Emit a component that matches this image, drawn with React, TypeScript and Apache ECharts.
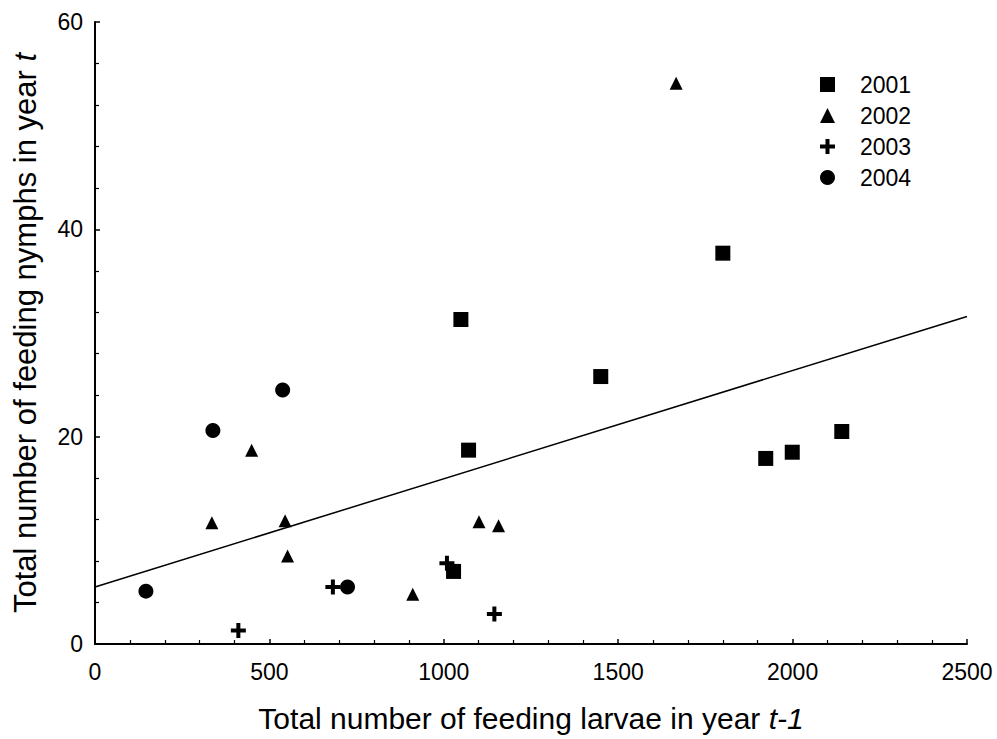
import React, { useEffect, useRef } from "react";
import * as echarts from "echarts";

const years = ["2001", "2002", "2003", "2004"];

const data2001: [number, number][] = [
  [1049, 31.3], [1800, 37.7], [1450, 25.8], [1071, 18.7], [1028, 7.0],
  [1923, 17.9], [1999, 18.5], [2141, 20.5],
];
const data2002: [number, number][] = [
  [1666, 54.1], [449, 18.7], [335, 11.7], [545, 11.9], [552, 8.5],
  [911, 4.8], [1101, 11.8], [1157, 11.4],
];
const data2003: [number, number][] = [
  [411, 1.3], [682, 5.5], [1009, 7.8], [1145, 2.9],
];
const data2004: [number, number][] = [
  [538, 24.5], [338, 20.6], [146, 5.1], [724, 5.5],
];
const regression: [number, number][] = [[0, 5.5], [2500, 31.6]];

const xTicks = [0, 500, 1000, 1500, 2000, 2500];
const yTicks = [0, 20, 40, 60];

const PLUS = "path://M5.5,0 H9.5 V5.5 H15 V9.5 H9.5 V15 H5.5 V9.5 H0 V5.5 H5.5 Z";

export default function App() {
  const ref = useRef<HTMLDivElement>(null);
  useEffect(() => {
    if (!ref.current) return;
    const chart = echarts.init(ref.current, null, { renderer: "svg" });
    const font = "'Liberation Sans', Arial, sans-serif";
    const axisCommon = {
      axisLine: { show: true, lineStyle: { color: "#000", width: 2 } },
      axisTick: { show: true, inside: true, length: 5, lineStyle: { color: "#000", width: 1.5 } },
      minorTick: { show: true, splitNumber: 5, length: 4, lineStyle: { color: "#000", width: 1.2 } },
      splitLine: { show: false },
      axisLabel: { color: "#000", fontSize: 23, fontFamily: font, formatter: (v: number) => String(v) },
    };
    const richX = {
      a: { fontSize: 30, color: "#000", fontFamily: font },
      b: { fontSize: 30, color: "#000", fontFamily: font, fontStyle: "italic" },
    };
    const richY = {
      a: { fontSize: 31, color: "#000", fontFamily: font },
      b: { fontSize: 31, color: "#000", fontFamily: font, fontStyle: "italic" },
    };
    const item = { color: "#000", opacity: 1 };
    chart.setOption({
      animation: false,
      backgroundColor: "#fff",
      textStyle: { fontFamily: font },
      grid: { left: 95, right: 30, top: 22, bottom: 95, containLabel: false, outerBoundsMode: "none" },
      legend: {
        data: years,
        orient: "vertical",
        left: 820,
        top: 73,
        padding: 0,
        itemWidth: 15,
        itemHeight: 15,
        itemGap: 8,
        textStyle: { color: "#000", fontSize: 23, fontFamily: font, padding: [0, 0, 0, 20] },
      },
      xAxis: {
        type: "value",
        min: xTicks[0],
        max: xTicks[xTicks.length - 1],
        interval: 500,
        ...axisCommon,
        axisLabel: { ...axisCommon.axisLabel, margin: 16 },
        name: "{a|Total number of feeding larvae in year }{b|t-1}",
        nameLocation: "middle",
        nameGap: 59,
        nameTextStyle: { rich: richX },
      },
      yAxis: {
        type: "value",
        min: yTicks[0],
        max: yTicks[yTicks.length - 1],
        interval: 20,
        ...axisCommon,
        axisLabel: { ...axisCommon.axisLabel, margin: 12 },
        name: "{a|Total number of feeding nymphs in year }{b|t}",
        nameLocation: "middle",
        nameGap: 54,
        nameTextStyle: { rich: richY },
      },
      series: [
        {
          name: "fit",
          type: "line",
          data: regression,
          symbol: "none",
          lineStyle: { color: "#000", width: 1.5 },
          z: 1,
        },
        { name: years[0], type: "scatter", data: data2001, symbol: "rect", symbolSize: 15, itemStyle: item },
        { name: years[1], type: "scatter", data: data2002, symbol: "triangle", symbolSize: [13, 13], itemStyle: item },
        { name: years[2], type: "scatter", data: data2003, symbol: PLUS, symbolSize: 15, itemStyle: item },
        { name: years[3], type: "scatter", data: data2004, symbol: "circle", symbolSize: 15, itemStyle: item },
      ],
    });
    return () => chart.dispose();
  }, []);
  return <div ref={ref} style={{ width: 997, height: 739, position: "absolute", left: 0, top: 0 }} />;
}
